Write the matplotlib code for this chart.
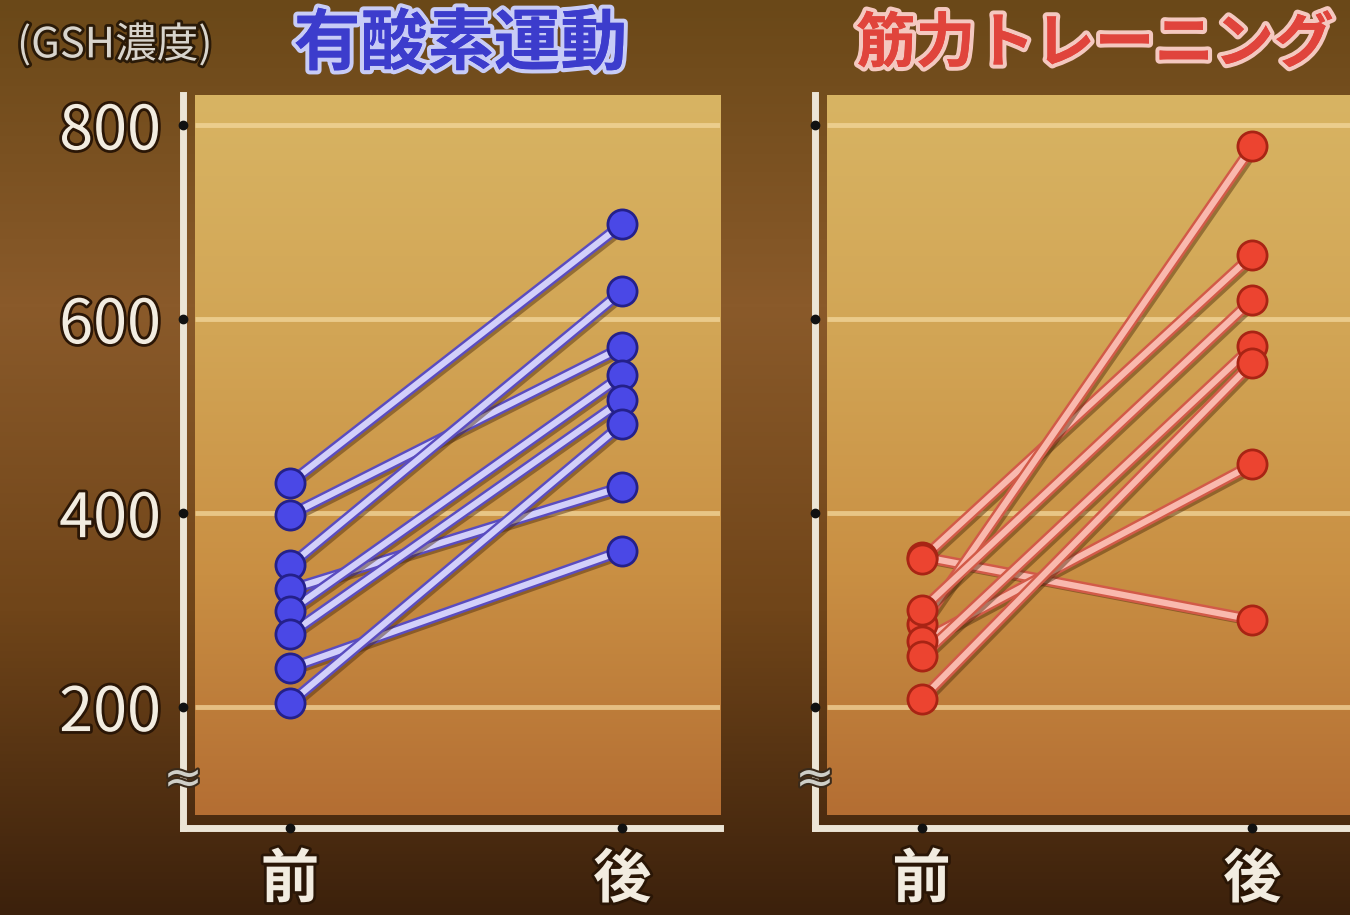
import numpy as np
import matplotlib.pyplot as plt
import matplotlib.patheffects as pe
from matplotlib.colors import LinearSegmentedColormap

plt.rcParams['font.family'] = ['Noto Sans CJK JP', 'DejaVu Sans']

# data (GSH concentration)
phase_labels = ['前', '後']
yticks = [200, 400, 600, 800]

aerobic_before = [431, 398, 346, 321, 299, 275, 240, 204]
aerobic_after = [698, 571, 629, 427, 542, 516, 361, 492]

strength_before = [355, 352, 285, 300, 268, 252, 208]
strength_after = [290, 666, 778, 620, 450, 572, 555]

fig = plt.figure(figsize=(13.5, 9.15), dpi=100)

# brown backdrop
grad = np.linspace(0, 1, 256).reshape(-1, 1)
bg = fig.add_axes([0, 0, 1, 1], zorder=-10)
bg.axis('off')
bg_cmap = LinearSegmentedColormap.from_list(
    'bg', ['#6a4818', '#8a5a2a', '#704519', '#3c210c'])
bg.imshow(grad, aspect='auto', cmap=bg_cmap, extent=[0, 1, 0, 1])
bg.set_xlim(0, 1)
bg.set_ylim(0, 1)

panel_cmap = LinearSegmentedColormap.from_list(
    'panel', ['#d8b463', '#d2a555', '#c98f43', '#b46e33'])

outline = [pe.withStroke(linewidth=4, foreground='#2a1606')]


def draw_panel(ax, before, after, line_col, edge_col, dot_col, dot_edge, show_labels):
    ax.patch.set_alpha(0)
    ax.imshow(grad, aspect='auto', cmap=panel_cmap, extent=[0.022, 1, 0.018, 1],
              transform=ax.transAxes, zorder=0)
    ax.hlines(yticks, 0.022, 1, transform=ax.get_yaxis_transform(),
              colors='#f3d79c', lw=3.5, alpha=0.75, zorder=1)

    for b, a in zip(before, after):
        ax.plot([0, 1], [b, a], color=line_col, lw=4.5, solid_capstyle='round', zorder=3,
                path_effects=[pe.SimpleLineShadow(offset=(3, -3), shadow_color='#4a2808', alpha=0.45),
                              pe.Stroke(linewidth=8, foreground=edge_col), pe.Normal()])
    ax.plot(np.zeros(len(before)), before, 'o', ms=21, mfc=dot_col, mec=dot_edge, mew=2, zorder=4)
    ax.plot(np.ones(len(after)), after, 'o', ms=21, mfc=dot_col, mec=dot_edge, mew=2, zorder=4)

    ax.set_xlim(-0.322, 1.295)
    ax.set_ylim(75, 831)

    for side in ['top', 'right']:
        ax.spines[side].set_visible(False)
    for side in ['left', 'bottom']:
        ax.spines[side].set_color('#ece5d6')
        ax.spines[side].set_linewidth(5)

    # black tick dots on the axes
    ax.plot(np.zeros(len(yticks)), yticks, 'o', color='#111111', ms=6,
            transform=ax.get_yaxis_transform(), clip_on=False, zorder=6)
    ax.plot([0, 1], [0, 0], 'o', color='#111111', ms=6,
            transform=ax.get_xaxis_transform(), clip_on=False, zorder=6)

    # axis break mark
    ax.text(0, 0.065, '≈', transform=ax.transAxes, ha='center', va='center',
            fontsize=34, color='#cfcfc8', family='DejaVu Sans', zorder=7,
            path_effects=[pe.withStroke(linewidth=3, foreground='#3a2a1a')])

    ax.set_xticks([0, 1])
    ax.set_xticklabels(phase_labels, fontsize=42, color='#f2ece0', fontweight='bold')
    ax.set_yticks(yticks)
    if show_labels:
        ax.set_yticklabels([str(v) for v in yticks], fontsize=44, color='#f2ece0')
    else:
        ax.set_yticklabels([])
    ax.tick_params(length=0, pad=16)
    for lbl in ax.get_xticklabels() + ax.get_yticklabels():
        lbl.set_path_effects(outline)


ax1 = fig.add_axes([0.1356, 0.0951, 0.398, 0.801])
draw_panel(ax1, aerobic_before, aerobic_after, '#d2d0fa', '#5a4cc0', '#4a48e6', '#24208a', True)

ax2 = fig.add_axes([0.6037, 0.0951, 0.3963, 0.801])
draw_panel(ax2, strength_before, strength_after, '#f9b9ae', '#d25a48', '#ec4430', '#a82414', False)

fig.text(0.085, 0.951, '(GSH濃度)', fontsize=30, color='#d8d4cc', ha='center', va='center',
         path_effects=[pe.withStroke(linewidth=4, foreground='#2a1a08')])
fig.text(0.341, 0.951, '有酸素運動', fontsize=48, color='#3c3ccc', fontweight='bold',
         ha='center', va='center',
         path_effects=[pe.withStroke(linewidth=6, foreground='#c8ccf6'),
                       pe.Normal()])
fig.text(0.811, 0.951, '筋力トレーニング', fontsize=43, color='#e0443c', fontweight='bold',
         ha='center', va='center',
         path_effects=[pe.withStroke(linewidth=6, foreground='#f4c8c0'),
                       pe.Normal()])

fig.savefig('out.png', dpi=100)
